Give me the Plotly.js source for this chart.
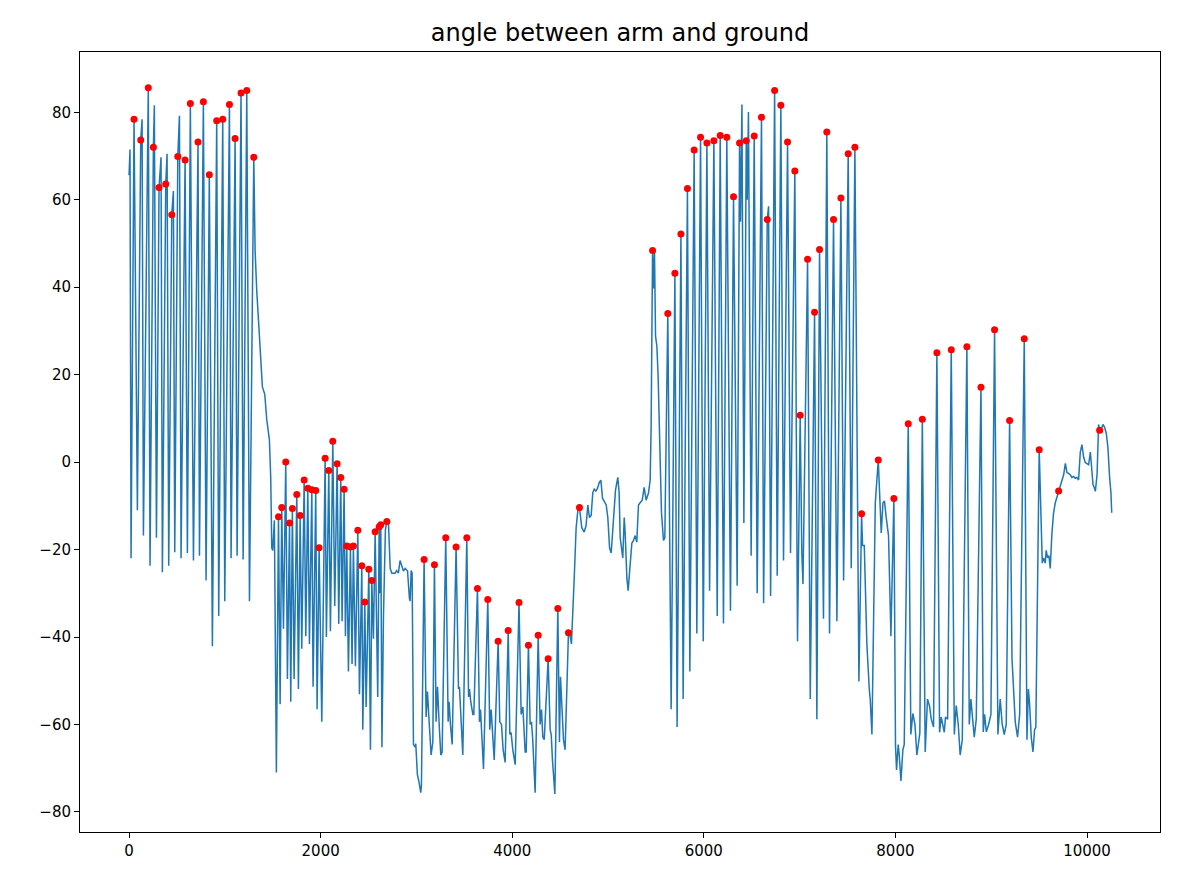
<!DOCTYPE html>
<html>
<head>
<meta charset="utf-8">
<script src="https://cdn.plot.ly/plotly-3.0.1.min.js"></script>
<style>html,body{margin:0;padding:0;background:#fff;}#chart{width:1184px;height:888px;}</style>
</head>
<body>
<div id="chart"></div>
<script>
// Sample index (x) and angle (y) of the signal
const sampleX = [
0,10,21,52,87,122,136,150,201,219,254,264,286,313,334,348,383,397,414,446,463,477,509,526,543,585,609,640,672,720,735,776,804,838,870,915,936,978,999,1048,1065,1107,1128,1169,1191,1229,1257,1302,1316,1333,1361,1392,1417,1437,1465,1479,1490,1500,1517,1538,1560,1577,1594,1612,1636,1653,1675,1688,1705,1723,1751,1768,1786,1803,1828,1845,1866,1883,1908,1921,1949,1963,1984,2012,2047,2060,2085,2102,2127,2147,2172,2189,2210,2224,2245,2259,2273,2290,2311,2328,2342,2363,2388,2405,2430,2440,2461,2475,2503,2520,2534,2551,2569,2596,2611,2618,2628,2640,2656,2676,2691,2708,2726,2743,2760,2777,2794,2812,2829,2847,2864,2882,2907,2927,2934,2945,2955,2969,2987,2993,3010,3028,3038,3045,3052,3080,3101,3115,3136,3153,3171,3188,3205,3220,3236,3254,3268,3306,3331,3341,3355,3373,3414,3439,3449,3466,3484,3526,3544,3554,3567,3589,3599,3637,3658,3669,3682,3700,3745,3765,3780,3794,3812,3853,3870,3888,3905,3926,3958,3975,3988,4006,4031,4071,4093,4111,4124,4135,4146,4169,4187,4201,4214,4239,4271,4291,4306,4319,4334,4375,4396,4407,4420,4445,4476,4493,4504,4517,4535,4552,4587,4605,4618,4647,4667,4688,4702,4726,4751,4771,4789,4806,4824,4841,4856,4873,4890,4908,4925,4943,4959,4981,4998,5016,5033,5057,5078,5102,5116,5127,5137,5154,5169,5179,5197,5210,5224,5249,5266,5283,5300,5318,5335,5357,5377,5398,5423,5440,5450,5465,5475,5485,5496,5510,5523,5538,5558,5579,5593,5624,5659,5698,5721,5761,5784,5829,5854,5899,5927,5966,5994,6032,6060,6105,6140,6171,6205,6240,6278,6310,6348,6373,6383,6398,6418,6443,6453,6466,6494,6526,6557,6602,6624,6662,6676,6697,6739,6766,6804,6832,6874,6905,6950,6978,7006,7023,7035,7083,7111,7156,7180,7208,7249,7284,7312,7354,7389,7431,7459,7507,7539,7577,7619,7647,7657,7675,7702,7727,7737,7755,7790,7821,7835,7852,7870,7886,7904,7928,7953,7984,8001,8012,8029,8040,8058,8078,8092,8134,8161,8182,8204,8224,8239,8255,8281,8311,8335,8357,8374,8398,8433,8461,8478,8496,8510,8523,8545,8583,8615,8635,8656,8676,8698,8746,8771,8788,8809,8823,8844,8893,8917,8931,8949,8973,8997,9035,9070,9094,9115,9136,9157,9192,9217,9230,9251,9275,9297,9345,9373,9388,9401,9418,9436,9453,9466,9501,9519,9533,9547,9564,9574,9589,9603,9616,9634,9651,9669,9704,9721,9739,9756,9774,9791,9809,9825,9842,9860,9877,9895,9912,9930,9947,9965,9982,10000,10017,10035,10045,10063,10076,10087,10105,10121,10132,10150,10166,10183,10201,10218,10236,10250,10258
];
const angleY = [
65.6,71.5,-22.0,78.4,-11.0,73.7,78.4,-16.8,85.6,-23.7,72.0,81.6,-17.3,62.8,69.7,-25.2,63.6,70.5,-23.7,56.6,62.0,-20.6,69.9,79.2,-22.0,69.1,-20.8,82.0,-22.5,73.2,-21.4,82.4,-27.1,65.7,-42.1,78.1,-35.2,78.4,-31.8,81.8,-22.0,74.0,-21.4,84.4,-22.3,85.0,-31.8,69.7,48.4,39.2,28.8,17.2,15.5,9.8,5.1,-3.5,-19.6,-20.2,-13.3,-71.0,-12.5,-55.4,-10.4,-38.1,0.0,-49.6,-13.9,-54.8,-10.6,-49.6,-7.4,-51.9,-12.2,-42.7,-4.1,-39.8,-6.0,-41.6,-6.3,-51.4,-6.5,-56.5,-19.6,-59.4,0.9,-40.0,-1.9,-38.7,4.8,-32.9,-0.4,-37.0,-3.5,-36.4,-6.2,-39.8,-19.2,-47.9,-19.4,-46.2,-19.2,-46.7,-15.6,-53.1,-23.7,-61.2,-32.0,-56.0,-24.5,-65.8,-27.1,-40.4,-15.9,-53.7,-14.8,-30.0,-14.3,-65.2,-35.0,-15.5,-13.6,-13.9,-24.3,-25.4,-25.4,-25.4,-24.8,-25.4,-22.5,-23.7,-24.9,-24.3,-24.9,-31.2,-31.8,-24.8,-25.4,-64.6,-65.2,-64.4,-71.5,-73.3,-75.0,-75.6,-74.0,-22.3,-58.3,-52.5,-60.6,-67.0,-64.0,-23.5,-59.4,-51.4,-59.4,-67.0,-66.4,-17.3,-59.4,-54.8,-60.0,-64.6,-19.4,-51.9,-51.4,-59.4,-67.0,-17.3,-53.7,-51.9,-54.8,-57.7,-57.7,-28.9,-59.4,-56.6,-61.2,-70.2,-31.4,-61.2,-56.6,-62.3,-68.1,-41.0,-59.4,-60.0,-65.8,-68.7,-38.5,-62.3,-61.8,-65.8,-69.2,-32.1,-57.7,-56.0,-62.3,-66.3,-66.3,-41.9,-60.0,-59.4,-63.5,-75.6,-39.6,-60.0,-56.6,-62.9,-63.5,-45.0,-61.2,-62.3,-68.1,-75.9,-33.5,-64.0,-49.1,-54.2,-63.5,-65.8,-39.0,-39.8,-41.6,-26.6,-15.0,-10.4,-10.4,-15.0,-16.0,-14.5,-9.8,-12.7,-12.2,-7.0,-6.2,-6.6,-6.0,-4.7,-4.1,-8.3,-9.0,-9.8,-12.7,-19.6,-20.8,-13.9,-6.4,-3.5,-7.0,-17.3,-19.6,-21.9,-12.7,-16.2,-26.6,-29.4,-25.4,-18.5,-17.9,-16.8,-18.3,-9.8,-9.3,-8.7,-5.8,-8.7,-7.0,-4.1,8.0,48.4,39.7,48.4,28.8,26.5,19.6,6.9,-11.6,-17.9,-17.3,34.0,-56.5,43.2,-60.6,52.2,-54.2,62.6,-47.9,71.4,-39.2,74.3,-41.0,73.0,-29.4,73.5,-35.2,74.7,-36.9,74.3,-34.0,60.7,-28.3,73.0,55.0,81.8,-13.9,73.5,60.0,80.1,-21.4,74.6,-30.0,78.9,-32.3,55.5,58.5,-30.6,85.0,-26.0,81.6,-22.5,73.2,-20.8,66.6,-41.0,10.7,-20.8,-27.9,46.4,-54.2,34.3,-58.8,48.6,-35.8,75.5,-39.2,55.5,-36.4,60.4,-27.1,70.5,-24.3,72.0,-50.2,-11.8,-19.1,-19.1,-41.6,-51.9,-54.2,-62.3,-9.3,0.5,-7.0,-16.2,-9.3,-8.9,-12.7,-16.8,-39.8,-8.3,-65.0,-70.4,-64.6,-67.0,-72.9,-65.8,-64.6,8.8,-62.3,-57.5,-60.0,-67.0,-64.6,-62.0,9.8,-66.3,-54.2,-55.9,-58.8,-60.6,25.0,-61.8,-58.3,-60.6,-61.8,-58.3,-58.8,25.7,-62.3,-55.7,-60.0,-67.0,-63.5,26.4,-60.0,-54.2,-58.8,-62.9,-58.8,17.1,-61.7,-57.7,-61.7,-60.0,-57.7,30.3,-62.3,-54.2,-60.0,-62.3,-60.0,9.5,-45.0,-50.2,-59.4,-62.9,-57.7,28.2,-63.5,-51.9,-55.4,-62.9,-66.3,-61.2,-60.6,2.8,-9.3,-23.1,-21.9,-23.1,-20.2,-21.9,-21.4,-24.3,-16.2,-11.6,-9.3,-6.6,-5.8,-4.1,-2.9,-0.3,-2.4,-2.6,-2.9,-3.5,-3.3,-3.7,-3.5,-4.1,2.3,4.0,1.1,-0.1,-0.3,-0.6,2.3,0.0,-5.2,-5.8,-6.7,-2.9,8.6,7.3,7.6,8.6,8.0,6.6,3.4,-3.5,-7.0,-11.6
];
// Detected peaks (red dots)
const peakX = [
52,122,201,254,313,383,446,509,585,640,720,776,838,915,978,1048,1107,1169,1229,1302,
1560,1594,1636,1675,1705,1751,1786,1828,1866,1908,1949,1984,2047,2085,2127,2172,2210,2245,2273,2311,2342,2388,2430,2461,2503,2534,2569,2611,2628,2691,
3080,3188,3306,3414,3526,3637,3745,3853,3958,4071,4169,4271,4375,4476,4587,4702,
5465,5624,5698,5761,5829,5899,5966,6032,6105,6171,6240,6310,6373,6443,6526,6602,6662,6739,6804,6874,6950,7006,7083,7156,7208,7284,7354,7431,7507,7577,7647,7821,7984,8134,8281,8433,8583,8746,8893,9035,9192,9345,9501,9704,10132
];
const peakY = [
78.4,73.7,85.6,72.0,62.8,63.6,56.6,69.9,69.1,82.0,73.2,82.4,65.7,78.1,78.4,81.8,74.0,84.4,85.0,69.7,
-12.5,-10.4,0.0,-13.9,-10.6,-7.4,-12.2,-4.1,-6.0,-6.3,-6.5,-19.6,0.9,-1.9,4.8,-0.4,-3.5,-6.2,-19.2,-19.4,-19.2,-15.6,-23.7,-32.0,-24.5,-27.1,-15.9,-14.8,-14.3,-13.6,
-22.3,-23.5,-17.3,-19.4,-17.3,-28.9,-31.4,-41.0,-38.5,-32.1,-41.9,-39.6,-45.0,-33.5,-39.0,-10.4,
48.4,34.0,43.2,52.2,62.6,71.4,74.3,73.0,73.5,74.7,74.3,60.7,73.0,73.5,74.6,78.9,55.5,85.0,81.6,73.2,66.6,10.7,46.4,34.3,48.6,75.5,55.5,60.4,70.5,72.0,-11.8,0.5,-8.3,8.8,9.8,25.0,25.7,26.4,17.1,30.3,9.5,28.2,2.8,-6.6,7.3
];
const xTicks = [0, 2000, 4000, 6000, 8000, 10000];
const yTicks = [-80, -60, -40, -20, 0, 20, 40, 60, 80];
const yTickText = yTicks.map(v => (v < 0 ? '\u2212' + Math.abs(v) : String(v)));
const titleText = 'angle between arm and ground';

const traces = [
  {x: sampleX, y: angleY, type: 'scatter', mode: 'lines',
   line: {color: '#1f77b4', width: 1.5}, hoverinfo: 'skip'},
  {x: peakX, y: peakY, type: 'scatter', mode: 'markers',
   marker: {color: '#ff0000', size: 7, line: {width: 0}}, hoverinfo: 'skip'}
];
const axisCommon = {showgrid: false, zeroline: false, showline: true, mirror: true,
  linecolor: '#000', linewidth: 1, ticks: 'outside', ticklen: 5, tickwidth: 1, tickcolor: '#000',
  tickfont: {family: 'DejaVu Sans', size: 15, color: '#000'}};
const layout = {
  width: 1184, height: 888, showlegend: false,
  paper_bgcolor: '#fff', plot_bgcolor: '#fff',
  margin: {l: 80, r: 24, t: 52, b: 56, pad: 0},
  title: {text: titleText, font: {family: 'DejaVu Sans', size: 24, color: '#000'},
          x: 0.5, xanchor: 'center', xref: 'paper', y: 1 - 33/888, yref: 'container', yanchor: 'middle'},
  xaxis: Object.assign({}, axisCommon, {range: [-512, 10762], tickmode: 'array', tickvals: xTicks,
          ticktext: xTicks.map(String)}),
  yaxis: Object.assign({}, axisCommon, {range: [-84.6, 93.8], tickmode: 'array', tickvals: yTicks,
          ticktext: yTickText})
};
Plotly.newPlot('chart', traces, layout, {staticPlot: true, displayModeBar: false});
</script>
</body>
</html>
